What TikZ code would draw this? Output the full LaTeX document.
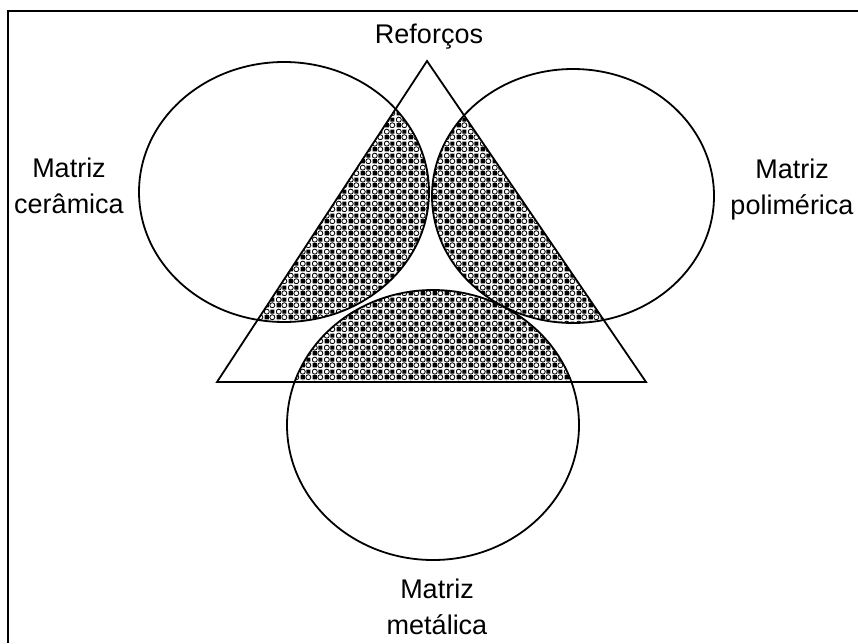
\documentclass[tikz,border=0pt]{standalone}
\usepackage{fontspec}
\setmainfont{Liberation Sans}
\usepackage{tikz}
\usetikzlibrary{patterns}

% padrao de bolinhas e quadradinhos
\pgfdeclarepatternformonly{bolinhas}{\pgfqpoint{0pt}{0pt}}{\pgfqpoint{12pt}{12pt}}{\pgfqpoint{12pt}{12pt}}{%
  \pgfsetlinewidth{0.9pt}
  \pgfpathrectangle{\pgfqpoint{0.8pt}{0.8pt}}{\pgfqpoint{4.4pt}{4.4pt}}
  \pgfpathrectangle{\pgfqpoint{6.8pt}{6.8pt}}{\pgfqpoint{4.4pt}{4.4pt}}
  \pgfusepath{fill}
  \pgfpathcircle{\pgfqpoint{9pt}{3pt}}{2.7pt}
  \pgfpathcircle{\pgfqpoint{3pt}{9pt}}{2.7pt}
  \pgfusepath{stroke}
}

\begin{document}
\begin{tikzpicture}[x=1pt, y=-1pt,
  rotulo/.style={font=\fontsize{27}{36}\selectfont, align=center, inner sep=0pt},
  contorno/.style={line width=1.8pt},
  moldura/.style={line width=2.6pt}
]
  \useasboundingbox (0,0) rectangle (858,643);

  \coordinate (topo) at (427,61);
  \coordinate (esq) at (217,382);
  \coordinate (dir) at (646,382);
  \coordinate (cer) at (284,192);
  \coordinate (pol) at (573,196);
  \coordinate (met) at (433,425);

  % regiao hachurada
  \begin{scope}
    \clip (esq) -- (topo) -- (dir) -- cycle;
    \fill[pattern=bolinhas]
      (cer) ellipse [x radius=145, y radius=130]
      (pol) ellipse [x radius=141, y radius=127]
      (met) ellipse [x radius=146, y radius=135];
  \end{scope}

  \draw[contorno] (cer) ellipse [x radius=145, y radius=130];
  \draw[contorno] (pol) ellipse [x radius=141, y radius=127];
  \draw[contorno] (met) ellipse [x radius=146, y radius=135];
  \draw[contorno] (esq) -- (topo) -- (dir) -- cycle;

  \draw[moldura] (8,643) -- (8,11) -- (858,11);

  \node[rotulo] (reforcos) at (429,37) {Reforços};
  \node[rotulo] (ceramica) at (69,186) {Matriz\\cerâmica};
  \node[rotulo] (polimerica) at (792,190) {Matriz\\polimérica};
  \node[rotulo] (metalica) at (437,607) {Matriz\\metálica};
\end{tikzpicture}
\end{document}
